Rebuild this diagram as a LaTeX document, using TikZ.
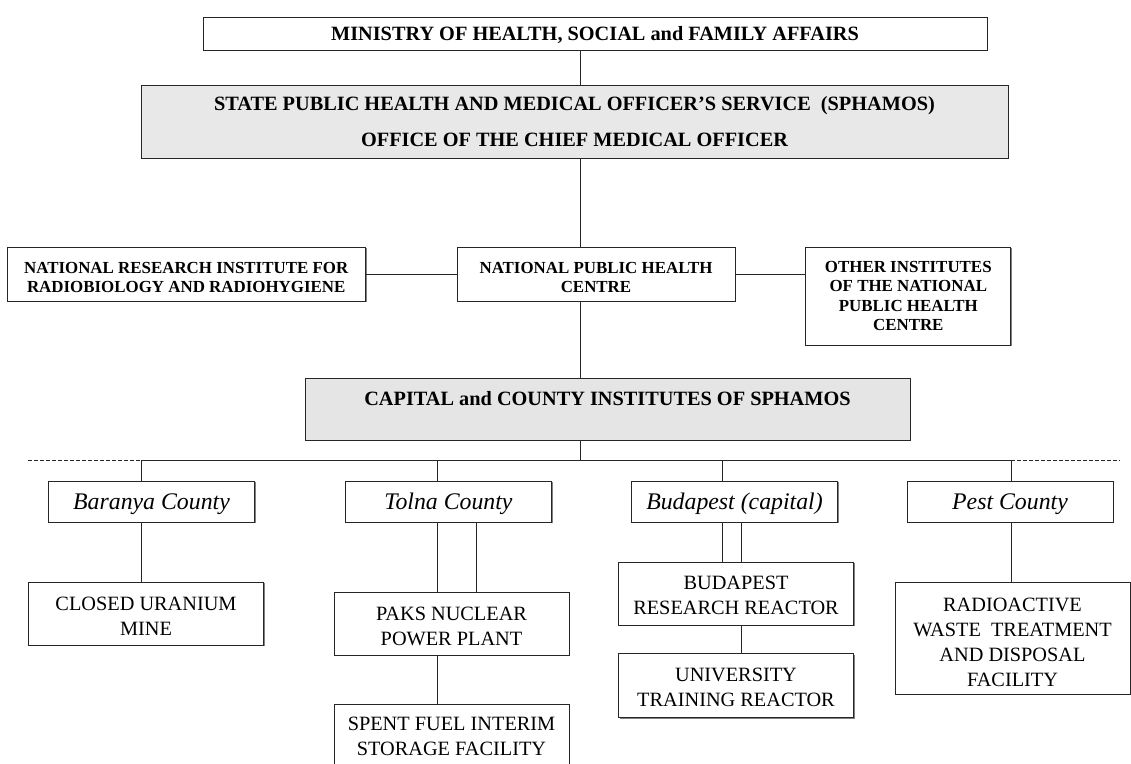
\documentclass[tikz,border=0pt]{standalone}
\usepackage{fontspec}
\setmainfont{Liberation Serif}
\usetikzlibrary{positioning,shadows}

% invisible strut to push the first line of a box down a little
\newcommand\capstrut[1]{\rule{0pt}{#1}}

\tikzset{
  unit/.style={draw=black!85, line width=0.8pt, fill=white, align=center, inner sep=2pt, text depth=0pt,
    drop shadow={shadow xshift=1.3pt, shadow yshift=-1.3pt, fill=black!50, opacity=1}},
  chief/.style={unit, font=\bfseries\fontsize{20.3}{24}\selectfont},
  inst/.style={unit, font=\bfseries\fontsize{16.9}{19.5}\selectfont, minimum height=54pt},
  county/.style={unit, font=\itshape\fontsize{23.8}{28}\selectfont, minimum width=206pt, minimum height=41pt},
  site/.style={unit, font=\fontsize{20.3}{25}\selectfont, minimum width=235pt, minimum height=63pt},
  link/.style={draw=black!85, line width=0.8pt},
}

\begin{document}
\begin{tikzpicture}[x=1pt,y=-1pt]
\useasboundingbox[fill=white] (0,0) rectangle (1131,763);

% top of the chain
\node[chief, minimum width=784pt, minimum height=33pt] (ministry) at (595,33.5) {MINISTRY OF HEALTH, SOCIAL and FAMILY AFFAIRS};
\node[chief, fill=black!9, minimum width=867pt, minimum height=73pt,
      font=\bfseries\fontsize{20.3}{36}\selectfont] (spha) at (574.5,121.5)
      {STATE PUBLIC HEALTH AND MEDICAL OFFICER’S SERVICE\ \ (SPHAMOS)\\OFFICE OF THE CHIEF MEDICAL OFFICER};

% national level
\node[inst, minimum width=278pt] (nphc) at (596,274) {\capstrut{18.4pt}NATIONAL PUBLIC HEALTH\\CENTRE};
\node[inst, minimum width=358pt, left=91pt of nphc] (nrirr) {\capstrut{18.4pt}NATIONAL RESEARCH INSTITUTE FOR\\RADIOBIOLOGY AND RADIOHYGIENE};
\node[inst, minimum width=205pt, minimum height=98pt, right=70pt of nphc.north east, anchor=north west] (other)
      {OTHER INSTITUTES\\OF THE NATIONAL\\PUBLIC HEALTH\\CENTRE};

\node[chief, fill=black!10, minimum width=605pt, minimum height=62pt, text height=14pt, text depth=22pt]
      (capital) at (607.5,409) {CAPITAL and COUNTY INSTITUTES OF SPHAMOS};

% counties
\node[county] (baranya) at (151.5,501.5) {Baranya County};
\node[county] (tolna) at (448.5,501.5) {Tolna County};
\node[county] (budapest) at (734.5,501.5) {Budapest (capital)};
\node[county] (pest) at (1010,501.5) {Pest County};

% facilities
\node[site] (mine) at (146,613.5) {\capstrut{18.7pt}CLOSED URANIUM\\MINE};
\node[site] (paks) at (451.5,623.5) {\capstrut{18.7pt}PAKS NUCLEAR\\POWER PLANT};
\node[site, minimum height=62pt, below=49pt of paks] (spent) {SPENT FUEL INTERIM\\STORAGE FACILITY};
\node[site] (brr) at (736,593.5) {\capstrut{16.7pt}BUDAPEST\\RESEARCH REACTOR};
\node[site, minimum height=64pt, below=28pt of brr] (utr) {\capstrut{16.7pt}UNIVERSITY\\TRAINING REACTOR};
\node[site, minimum height=112pt] (waste) at (1012.5,638) {\capstrut{22.7pt}RADIOACTIVE\\WASTE\ \ TREATMENT\\AND DISPOSAL\\FACILITY};

% spine and bus
\coordinate (spine) at (580,0);
\coordinate (busW) at (28,460);
\coordinate (busE) at (1120,460);
\coordinate (dropA) at (141,460);
\coordinate (dropB) at (437,460);
\coordinate (dropB2) at (476,460);
\coordinate (dropC) at (722,460);
\coordinate (dropC2) at (741,460);
\coordinate (dropD) at (1011,460);

\draw[link] (ministry.south -| spine) -- (spha.north -| spine);
\draw[link] (spha.south -| spine) -- (nphc.north -| spine);
\draw[link] (nrirr) -- (nphc);
\draw[link] (nphc.east) -- (nphc.east -| other.west);
\draw[link] (nphc.south -| spine) -- (capital.north -| spine);
\draw[link] (capital.south -| spine) -- (spine |- busW);

\draw[link] (dropA) -- (dropD);
\draw[link, dash pattern=on 4pt off 2pt] (busW) -- (dropA);
\draw[link, dash pattern=on 4pt off 2pt] (dropD) -- (busE);

\draw[link] (dropA) -- (dropA |- baranya.north);
\draw[link] (dropB) -- (dropB |- tolna.north);
\draw[link] (dropC) -- (dropC |- budapest.north);
\draw[link] (dropD) -- (dropD |- pest.north);

\draw[link] (dropA |- baranya.south) -- (dropA |- mine.north);
\draw[link] (dropB |- tolna.south) -- (dropB |- paks.north);
\draw[link] (dropB2 |- tolna.south) -- (dropB2 |- paks.north);
\draw[link] (dropB |- paks.south) -- (dropB |- spent.north);
\draw[link] (dropC |- budapest.south) -- (dropC |- brr.north);
\draw[link] (dropC2 |- budapest.south) -- (dropC2 |- brr.north);
\draw[link] (dropC2 |- brr.south) -- (dropC2 |- utr.north);
\draw[link] (dropD |- pest.south) -- (dropD |- waste.north);
\end{tikzpicture}
\end{document}
